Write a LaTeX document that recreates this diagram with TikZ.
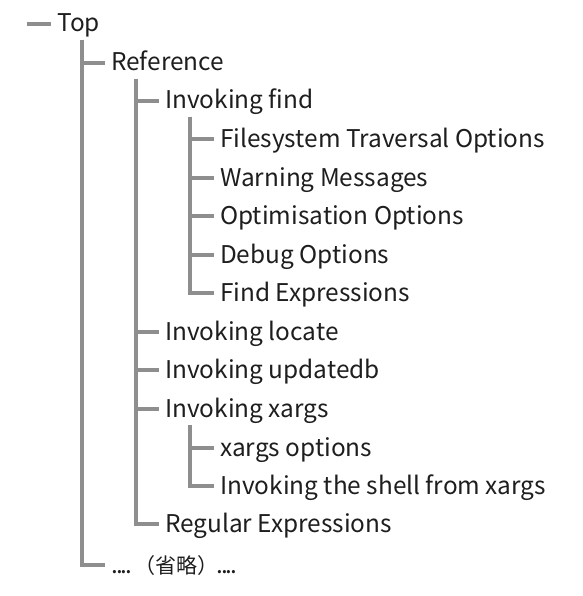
\documentclass[tikz,border=0pt]{standalone}
\usepackage{fontspec}
\setmainfont{Noto Sans CJK JP}
\definecolor{txt}{HTML}{1E1E1E}
\definecolor{ln}{HTML}{8E8E8E}
\newcommand{\fourdots}{.\kern-2pt.\kern-2pt.\kern-2pt.}
\begin{document}
\begin{tikzpicture}[x=1pt,y=-1pt,
  lbl/.style={anchor=base west,inner sep=0pt,font=\fontsize{24.4}{24.4}\selectfont,text=txt},
  br/.style={draw=ln,line width=4pt}]
\useasboundingbox[fill=white] (0,0) rectangle (582,596);
\def\bl{8}
\node[lbl] (top) at (57,24+\bl) {Top};
\node[lbl] (ref) at (111,63+\bl) {Reference};
\node[lbl] (find) at (165,101+\bl) {Invoking find};
\node[lbl] (fs) at (220,139+\bl) {Filesystem Traversal Options};
\node[lbl] (warn) at (220,178+\bl) {Warning Messages};
\node[lbl] (opt) at (220,216+\bl) {Optimisation Options};
\node[lbl] (dbg) at (220,255+\bl) {Debug Options};
\node[lbl] (fexp) at (220,293+\bl) {Find Expressions};
\node[lbl] (loc) at (165,332+\bl) {Invoking locate};
\node[lbl] (upd) at (165,370+\bl) {Invoking updatedb};
\node[lbl] (xarg) at (165,409+\bl) {Invoking xargs};
\node[lbl] (xopt) at (220,448+\bl) {xargs options};
\node[lbl] (shell) at (220,486+\bl) {Invoking the shell from xargs};
\node[lbl] (regex) at (165,524+\bl) {Regular Expressions};
\node[lbl] (omit) at (111,565+\bl) {\fourdots\kern2pt{\fontsize{21}{21}\selectfont （省略）}\kern-2pt\fourdots};
\coordinate (lead) at (27,24);
\draw[br] (lead) -- ([xshift=-6pt,yshift=8pt]top.base west);
\foreach \p/\c in {top/ref,top/omit,ref/find,ref/loc,ref/upd,ref/xarg,ref/regex,
                   find/fs,find/warn,find/opt,find/dbg,find/fexp,xarg/xopt,xarg/shell}
  \draw[br] ([xshift=25pt,yshift=-8pt]\p.base west) |- ([xshift=-6pt,yshift=8pt]\c.base west);
\end{tikzpicture}
\end{document}
